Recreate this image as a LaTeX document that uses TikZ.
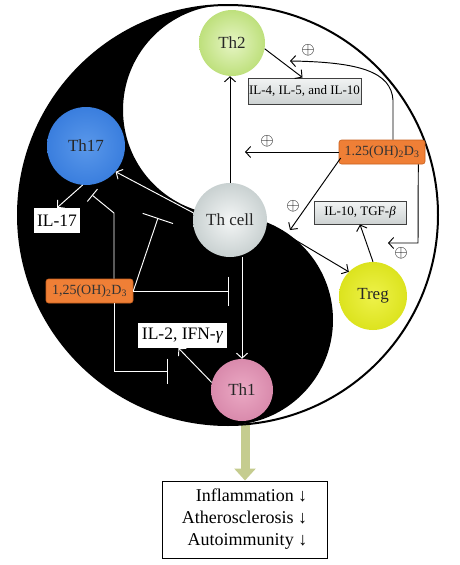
\documentclass[tikz,border=0pt]{standalone}
\usepackage{fontspec}
\setmainfont{Liberation Serif}
\usetikzlibrary{arrows.meta,calc}
\definecolor{orbox}{HTML}{EF7F36}
\definecolor{orline}{HTML}{C8601E}
\definecolor{thtwo}{HTML}{BEE07C}
\definecolor{thtwoL}{HTML}{E6F5C4}
\definecolor{thsev}{HTML}{3A7EDE}
\definecolor{thsevL}{HTML}{5A98EA}
\definecolor{thcel}{HTML}{C9D1D1}
\definecolor{thcelL}{HTML}{F4F6F6}
\definecolor{tregc}{HTML}{DCE31E}
\definecolor{tregL}{HTML}{EEF24A}
\definecolor{thone}{HTML}{D98AAC}
\definecolor{thoneL}{HTML}{EBA9C4}
\definecolor{boxg}{HTML}{CDD2D2}
\definecolor{boxgL}{HTML}{F2F4F4}
\definecolor{olivec}{HTML}{C5CC8F}
\begin{document}
\begin{tikzpicture}[x=1pt,y=-1pt,
  cellnode/.style={circle, inner sep=0pt, minimum size=#1, font=\fontsize{17}{20}\selectfont, text=black!85},
  orangebox/.style={rectangle, rounded corners=2.5pt, fill=orbox, draw=orline, line width=0.6pt, minimum width=86pt, minimum height=24pt, inner sep=0pt, font=\fontsize{14}{16}\selectfont, text=black!80},
  graybox/.style={rectangle, top color=boxgL, bottom color=boxg, draw=black!75, line width=1pt, inner sep=0pt, font=\fontsize{13}{15}\selectfont},
  whitebox/.style={rectangle, fill=white, inner sep=0pt, font=\fontsize{17.5}{20}\selectfont},
  barrow/.style={draw=black, line width=0.95pt, -{Straight Barb[length=5pt,width=11pt]}},
  warrow/.style={draw=white, line width=0.95pt, -{Straight Barb[length=5pt,width=11pt]}},
  winhib/.style={draw=white, line width=0.95pt, -{Bar[width=#1]}},
  plussign/.style={inner sep=0pt, font=\fontsize{17}{17}\selectfont},
]
\useasboundingbox (0,0) rectangle (460,565);
\fill[white] (0,0) rectangle (460,565);

% result box and thick arrow
\node[draw=black, fill=white, line width=1pt, minimum width=165pt, minimum height=77pt, align=right, font=\fontsize{18}{22}\selectfont] (res) at (244.5,519.5) {Inflammation ↓\\Atherosclerosis ↓\\Autoimmunity ↓};
\coordinate (arrstart) at (245,424);
\draw[olivec, line width=9pt, -{Triangle[length=12pt,width=21pt]}] (arrstart) -- (arrstart |- res.north);

% yin-yang
\fill[black] (228,5) arc[start angle=270, end angle=90, radius=210]
  arc[start angle=90, end angle=-90, radius=105]
  arc[start angle=90, end angle=270, radius=105] -- cycle;
\draw[black, line width=2pt] (228,215) circle[radius=210];

% cells
\node[cellnode=66pt, inner color=thtwoL, outer color=thtwo] (th2) at (232,43) {Th2};
\node[cellnode=78pt, inner color=thsevL, outer color=thsev] (th17) at (86,146) {Th17};
\node[cellnode=74pt, inner color=thcelL, outer color=thcel] (thc) at (230,220) {Th cell};
\node[cellnode=68pt, inner color=tregL, outer color=tregc] (treg) at (373,296) {Treg};
\node[cellnode=62pt, inner color=thoneL, outer color=thone] (th1) at (242,390) {Th1};

% boxes
\node[graybox, minimum width=113pt, minimum height=26pt] (il4) at (304.5,91) {IL-4, IL-5, and IL-10};
\node[graybox, minimum width=92pt, minimum height=23pt] (il10) at (360,212.5) {IL-10, TGF-\textit{β}};
\node[orangebox] (vdr) at (382,152) {1.25(OH)\textsubscript{2}D\textsubscript{3}};
\node[orangebox, minimum width=87pt] (vdl) at (89.5,291) {1,25(OH)\textsubscript{2}D\textsubscript{3}};
\node[whitebox, minimum width=46pt, minimum height=25pt] (il17) at (57,220.5) {IL-17};
\node[whitebox, minimum width=89pt, minimum height=25pt] (il2) at (182.5,335.5) {IL-2, IFN-\textit{γ}};

% black connectors (white half)
\draw[barrow] (thc) -- (thc |- th2.south);
\draw[barrow] (th2.-10) -- ($(il4.north)+(-2,0)$);
\coordinate (c1a) at (393,100);
\coordinate (c1b) at (290,61);
\draw[barrow] ($(vdr.north)+(11,0)$) -- (c1a) .. controls (391,72) and (360,62) .. (c1b);
\coordinate (c2) at (245,152);
\draw[barrow] (vdr) -- (c2);
\coordinate (c3) at (290,230);
\draw[barrow] ($(vdr.west)+(2,6)$) -- (c3);
\coordinate (c4) at (418,243);
\coordinate (c5) at (388,243);
\draw[barrow] ($(vdr.south east)+(-7,0)$) -- (c4) -- (c5);
\draw[barrow] (thc.-5) -- (treg.135);
\draw[barrow] (treg.north) -- (il10.south);

\node[plussign] (p1) at (308,50) {$\oplus$};
\node[plussign] (p2) at (267,141) {$\oplus$};
\node[plussign] (p3) at (293,206) {$\oplus$};
\node[plussign] (p4) at (401,253) {$\oplus$};

% white connectors (black half)
\draw[warrow] (thc.169) -- (th17.-41);
\draw[warrow] (th17.265) -- (il17.north);
\draw[warrow] (th1.166) -- ($(il2.south)+(-4,0)$);
\draw[warrow] (th1.north |- thc.south) -- (th1.north);

\coordinate (b1k) at (114,213);
\coordinate (b1) at (92,195);
\draw[winhib=16pt] ($(vdl.north)+(24.5,0)$) -- (b1k) -- (b1);
\coordinate (b2) at (158,218);
\draw[winhib=32pt] (vdl.east) -- (b2);
\coordinate (b3) at (229,291);
\draw[winhib=29pt] (vdl.east) -- (b3);
\coordinate (b4k) at (114,371);
\coordinate (b4) at (168,371);
\draw[winhib=25pt] ($(vdl.south)+(24.5,0)$) -- (b4k) -- (b4);
\end{tikzpicture}
\end{document}
